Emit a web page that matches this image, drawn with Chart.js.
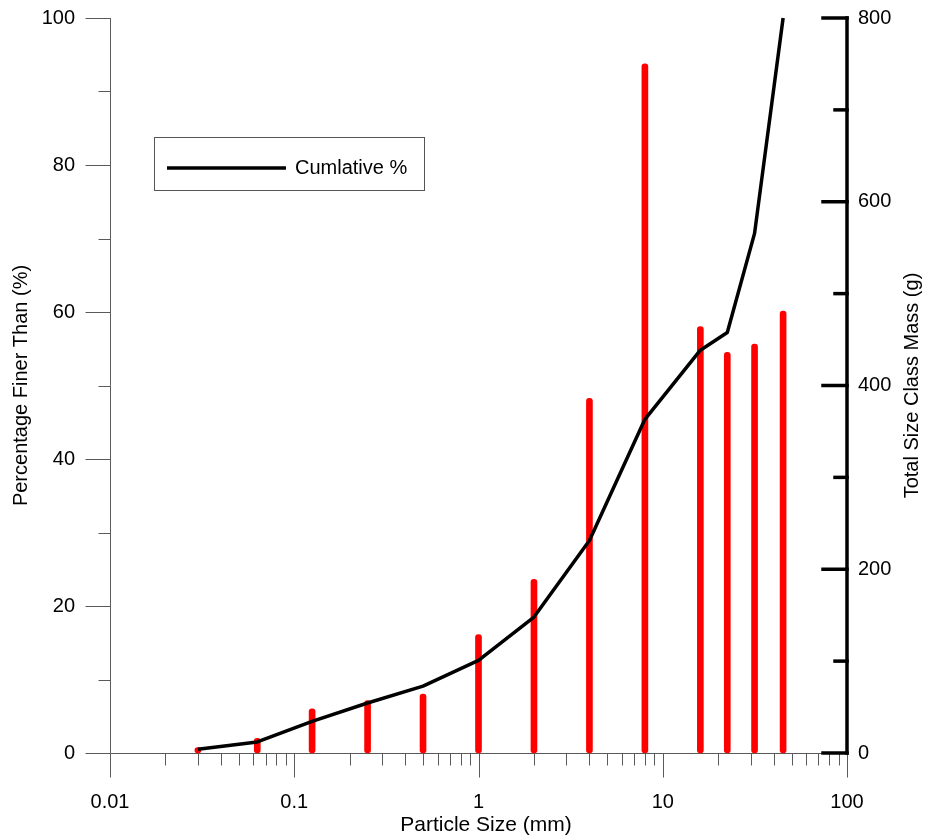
<!DOCTYPE html>
<html>
<head>
<meta charset="utf-8">
<title>Particle Size Distribution</title>
<script src="https://cdn.jsdelivr.net/npm/chart.js@4.4.1/dist/chart.umd.min.js"></script>
<style>
  html, body { margin: 0; padding: 0; background: #fff; }
  #wrap { width: 928px; height: 837px; }
</style>
</head>
<body>
<div id="wrap"><canvas id="myChart" width="928" height="837"></canvas></div>
<script>
// sieve sizes (mm) and what was retained on each
const sieveSizes = [0.03, 0.063, 0.125, 0.25, 0.5, 1, 2, 4, 8, 16, 22.4, 31.5, 45];
const classMass = [6, 16, 48, 57, 64, 129, 189, 386, 750, 464, 436, 445, 481];
const cumulativePct = [0.5, 1.5, 4.3, 6.8, 9.1, 12.6, 18.5, 28.9, 45.4, 54.8, 57.2, 70.7, 100];

const xTicks = [0.01, 0.1, 1, 10, 100];
const xTickLabels = ["0.01", "0.1", "1", "10", "100"];
const pctTicks = [0, 20, 40, 60, 80, 100];
const pctMinor = [10, 30, 50, 70, 90];
const massTicks = [0, 200, 400, 600, 800];
const massMinor = [100, 300, 500, 700];

const FONT = "20px 'Liberation Sans', Arial, sans-serif";
const AXIS_GREY = "#5a5a5a";

function hLine(ctx, x1, x2, y) {
  ctx.beginPath();
  ctx.moveTo(x1, y);
  ctx.lineTo(x2, y);
  ctx.stroke();
}

function vLine(ctx, x, y1, y2) {
  ctx.beginPath();
  ctx.moveTo(x, y1);
  ctx.lineTo(x, y2);
  ctx.stroke();
}

function minorLogTicks() {
  const out = [];
  for (let d = 0; d < xTicks.length - 1; d++) {
    for (let m = 2; m <= 9; m++) out.push(xTicks[d] * m);
  }
  return out;
}

function drawAxes(chart) {
  const ctx = chart.ctx;
  const area = chart.chartArea;
  const x = chart.scales.x;
  const y = chart.scales.y;
  const y1 = chart.scales.y1;
  const left = Math.round(area.left) + 0.5;
  const bottom = Math.round(area.bottom) + 0.5;

  ctx.save();
  ctx.strokeStyle = AXIS_GREY;
  ctx.lineWidth = 1;

  // left axis, percentage
  vLine(ctx, left, y.getPixelForValue(100), bottom);
  pctTicks.forEach(v => {
    const py = Math.round(y.getPixelForValue(v)) + 0.5;
    hLine(ctx, left - 25, left, py);
  });
  pctMinor.forEach(v => {
    const py = Math.round(y.getPixelForValue(v)) + 0.5;
    hLine(ctx, left - 12, left, py);
  });

  // bottom axis, log particle size
  hLine(ctx, left, x.getPixelForValue(100), bottom);
  xTicks.forEach(v => {
    const px = Math.round(x.getPixelForValue(v)) + 0.5;
    vLine(ctx, px, bottom, bottom + 24);
  });
  minorLogTicks().forEach(v => {
    const px = Math.round(x.getPixelForValue(v)) + 0.5;
    vLine(ctx, px, bottom, bottom + 12);
  });

  // right axis, mass
  const right = x.getPixelForValue(100);
  ctx.strokeStyle = "#000";
  ctx.lineWidth = 3.5;
  ctx.lineCap = "square";
  vLine(ctx, right, y1.getPixelForValue(800), y1.getPixelForValue(0));
  massTicks.forEach(v => hLine(ctx, right - 24, right, y1.getPixelForValue(v)));
  massMinor.forEach(v => hLine(ctx, right - 12, right, y1.getPixelForValue(v)));

  // tick labels
  ctx.fillStyle = "#000";
  ctx.font = FONT;
  ctx.textBaseline = "middle";
  ctx.textAlign = "right";
  pctTicks.forEach(v => ctx.fillText(String(v), 75, y.getPixelForValue(v)));
  ctx.textAlign = "left";
  massTicks.forEach(v => ctx.fillText(String(v), 858, y1.getPixelForValue(v)));
  ctx.textAlign = "center";
  xTicks.forEach((v, i) => ctx.fillText(xTickLabels[i], x.getPixelForValue(v), 802));

  // axis titles
  const midY = (area.top + area.bottom) / 2;
  ctx.font = "21px 'Liberation Sans', Arial, sans-serif";
  ctx.fillText("Particle Size (mm)", 486, 825);
  ctx.font = FONT;
  ctx.save();
  ctx.translate(21, midY);
  ctx.rotate(-Math.PI / 2);
  ctx.fillText("Percentage Finer Than (%)", 0, 0);
  ctx.restore();
  ctx.save();
  ctx.translate(912, midY);
  ctx.rotate(-Math.PI / 2);
  ctx.fillText("Total Size Class Mass (g)", 0, 0);
  ctx.restore();

  ctx.restore();
}

function drawLegend(chart) {
  const ctx = chart.ctx;
  ctx.save();
  ctx.strokeStyle = "#555";
  ctx.lineWidth = 1;
  ctx.strokeRect(154.5, 137.5, 270, 53);
  ctx.strokeStyle = "#000";
  ctx.lineWidth = 3.5;
  hLine(ctx, 167, 286, 168);
  ctx.fillStyle = "#000";
  ctx.font = FONT;
  ctx.textAlign = "left";
  ctx.textBaseline = "middle";
  ctx.fillText("Cumlative %", 295, 168);
  ctx.restore();
}

const axesPlugin = {
  id: "gradingAxes",
  beforeDatasetsDraw(chart) { drawAxes(chart); },
  afterDraw(chart) { drawLegend(chart); }
};

window.onload = function () {
  const ctx = document.getElementById("myChart").getContext("2d");
  new Chart(ctx, {
    type: "bar",
    data: {
      datasets: [
        {
          type: "line",
          label: "Cumlative %",
          data: sieveSizes.map((s, i) => ({ x: s, y: cumulativePct[i] })),
          yAxisID: "y",
          borderColor: "#000",
          borderWidth: 3.5,
          borderJoinStyle: "round",
          pointRadius: 0,
          tension: 0,
          clip: false,
          order: 0
        },
        {
          type: "bar",
          label: "Size class mass",
          data: sieveSizes.map((s, i) => ({ x: s, y: classMass[i] })),
          yAxisID: "y1",
          backgroundColor: "#ff0000",
          barThickness: 6,
          borderRadius: 3,
          borderSkipped: false,
          clip: false,
          order: 1
        }
      ]
    },
    options: {
      responsive: false,
      animation: false,
      layout: { padding: { left: 110, right: 81, top: 18, bottom: 84 } },
      plugins: { legend: { display: false }, tooltip: { enabled: false } },
      scales: {
        x: { type: "logarithmic", min: 0.01, max: 100, offset: false, display: false },
        y: { type: "linear", min: 0, max: 100, display: false },
        y1: { type: "linear", min: 0, max: 800, display: false }
      }
    },
    plugins: [axesPlugin]
  });
};
</script>
</body>
</html>
